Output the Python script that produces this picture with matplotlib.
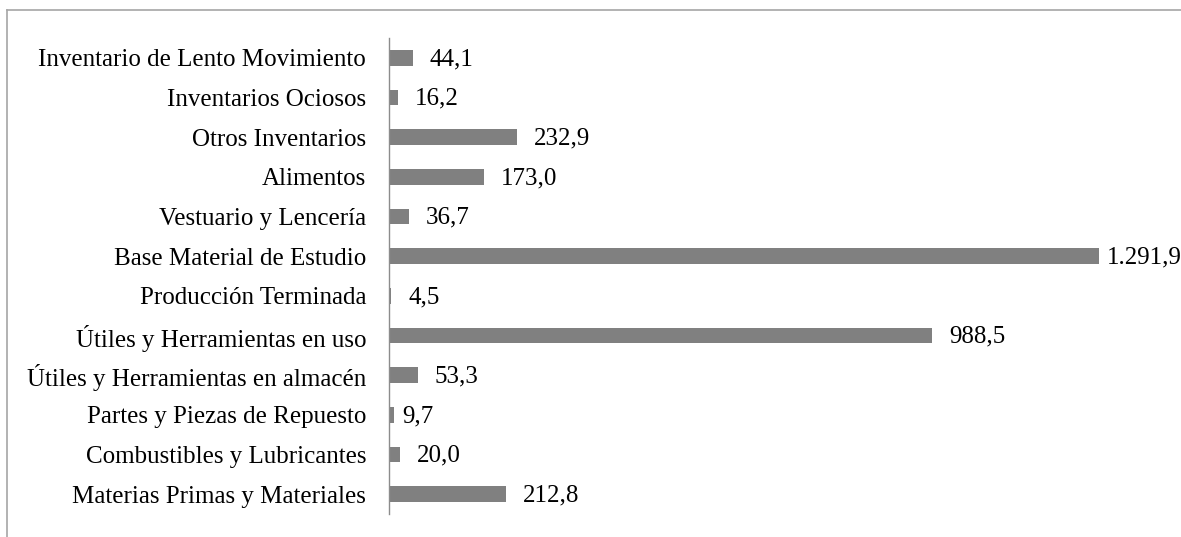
import matplotlib
matplotlib.use("Agg")
import matplotlib.pyplot as plt
from matplotlib.lines import Line2D

categories = [
    "Materias Primas y Materiales",
    "Combustibles y Lubricantes",
    "Partes y Piezas de Repuesto",
    "Útiles y Herramientas en almacén",
    "Útiles y Herramientas en uso",
    "Producción Terminada",
    "Base Material de Estudio",
    "Vestuario y Lencería",
    "Alimentos",
    "Otros Inventarios",
    "Inventarios Ociosos",
    "Inventario de Lento Movimiento",
]
values = [212.8, 20.0, 9.7, 53.3, 988.5, 4.5, 1291.9, 36.7, 173.0, 232.9, 16.2, 44.1]

def fmt(v):
    s = f"{v:,.1f}"
    return s.replace(",", "X").replace(".", ",").replace("X", ".")

plt.rcParams['font.family'] = ['Liberation Serif', 'DejaVu Serif']

W, H = 1181, 537
fig = plt.figure(figsize=(W / 100, H / 100), dpi=100)
ax_left, ax_right = 389 / W, 1170 / W
ax_top, ax_bot = 1 - 38 / H, 1 - 514 / H
ax = fig.add_axes([ax_left, ax_bot, ax_right - ax_left, ax_top - ax_bot])

y = list(range(len(categories)))
ax.barh(y, values, height=0.39, color="#808080")
# label offsets in points (the source places two labels closer to their bars)
label_dx = [12, 12, 5.8, 12, 12, 12, 5.8, 12, 12, 12, 12, 12]
for yi, v, dx in zip(y, values, label_dx):
    ax.annotate(fmt(v), xy=(v, yi), xytext=(dx, -1), textcoords="offset points",
                va="center", ha="left", fontsize=18, color="black")

ax.set_xlim(0, 781 / 0.5496)
ax.set_ylim(-0.5, len(categories) - 0.5)
ax.set_yticks(y)
ax.set_yticklabels(categories, fontsize=18)
ax.tick_params(axis="y", length=0, pad=16.5)
ax.set_xticks([])
for s in ["top", "right", "bottom"]:
    ax.spines[s].set_visible(False)
ax.spines["left"].set_color("#8c8c8c")
ax.spines["left"].set_linewidth(1)

# figure border (top and left visible)
x0 = 6.5 / W
y0 = 1 - 9.5 / H
fig.add_artist(Line2D([x0, 1], [y0, y0], transform=fig.transFigure, color="#a6a6a6", lw=1.2))
fig.add_artist(Line2D([x0, x0], [y0, 0], transform=fig.transFigure, color="#a6a6a6", lw=1.2))

fig.savefig("out.png", dpi=100)
